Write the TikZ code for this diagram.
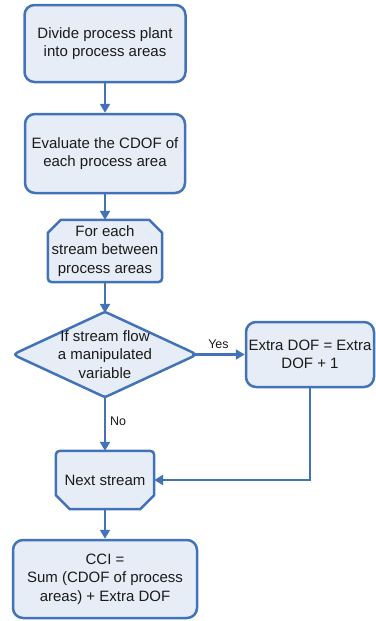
\documentclass[tikz,border=0pt]{standalone}
\usepackage{fontspec}
\setmainfont{Liberation Sans}
\usetikzlibrary{arrows.meta,calc,backgrounds}
\definecolor{bl}{HTML}{4273B9}
\definecolor{fl}{HTML}{E7EDF6}
\definecolor{tx}{HTML}{1A1A1A}
\begin{document}
\begin{tikzpicture}[x=1pt,y=-1pt,
  font=\fontsize{15}{18.5}\selectfont,
  rbox/.style={draw=bl, fill=fl, line width=2.5pt, rounded corners=10pt, align=center, text=tx, inner sep=0pt},
  slot/.style={align=center, text=tx, inner sep=0pt},
  shp/.style={draw=bl, fill=fl, line width=2.5pt, line join=round},
  arr/.style={draw=bl, line width=2.5pt, -{Triangle[length=9pt,width=10pt]}},
  lab/.style={text=tx, font=\fontsize{12.5}{14}\selectfont, inner sep=0pt}]
\useasboundingbox (0,0) rectangle (375,621);

\node[rbox, minimum width=161pt, minimum height=77pt] (b1) at (105,43.5) {Divide process plant\\into process areas};
\node[rbox, minimum width=160pt, minimum height=79pt] (b2) at (105,153.5) {Evaluate the CDOF of\\each process area};
\node[slot, minimum width=114pt, minimum height=62pt] (b3) at (105,251) {For each\\stream between\\process areas};
\node[slot, minimum width=184pt, minimum height=85pt] (d) at (105,354.5) {If stream flow\\a manipulated\\variable};
\node[rbox, minimum width=128pt, minimum height=65pt] (e) at (310,354.5) {Extra DOF = Extra\\DOF + 1};
\node[slot, minimum width=98pt, minimum height=58pt] (n) at (105,480) {Next stream};
\node[rbox, minimum width=184pt, minimum height=78pt] (c) at (105,579) {CCI =\\Sum (CDOF of process\\areas) + Extra DOF};

\begin{scope}[on background layer]
\draw[shp] ([xshift=13pt]b3.north west) -- ([xshift=-13pt]b3.north east) -- ([yshift=-13pt]b3.north east)
  -- ([yshift=9pt]b3.south east) .. controls (b3.south east) .. ([xshift=-9pt]b3.south east)
  -- ([xshift=9pt]b3.south west) .. controls (b3.south west) .. ([yshift=9pt]b3.south west)
  -- ([yshift=-13pt]b3.north west) -- cycle;
\draw[shp] ($(d.west)!0.1!(d.north)$) -- ($(d.north)!0.03!(d.west)$) .. controls (d.north) .. ($(d.north)!0.03!(d.east)$)
  -- ($(d.east)!0.1!(d.north)$)
  .. controls (d.east) .. ($(d.east)!0.1!(d.south)$) -- ($(d.south)!0.03!(d.east)$) .. controls (d.south) .. ($(d.south)!0.03!(d.west)$)
  -- ($(d.west)!0.1!(d.south)$)
  .. controls (d.west) .. ($(d.west)!0.1!(d.north)$) -- cycle;
\draw[shp] ([yshift=14pt]n.south west) -- ([yshift=-9pt]n.north west) .. controls (n.north west) .. ([xshift=9pt]n.north west)
  -- ([xshift=-9pt]n.north east) .. controls (n.north east) .. ([yshift=-9pt]n.north east)
  -- ([yshift=14pt]n.south east) -- ([xshift=-14pt]n.south east) -- ([xshift=14pt]n.south west) -- cycle;
\end{scope}

\draw[arr] (b1.south) -- (b2.north);
\draw[arr] (b2.south) -- (b3.north);
\draw[arr] ([yshift=-1pt]b3.south) -- ([yshift=-1pt]d.north);
\draw[arr] ([xshift=-5pt]d.east) -- (e.west) node[lab, midway, above=5pt] (yes) {Yes};
\draw[arr] ([yshift=1pt]d.south) -- (n.north);
\node[lab, anchor=west] (no) at (110,421) {No};
\draw[arr] (e.south) |- (n.east);
\draw[arr] (n.south) -- (c.north);
\end{tikzpicture}
\end{document}
